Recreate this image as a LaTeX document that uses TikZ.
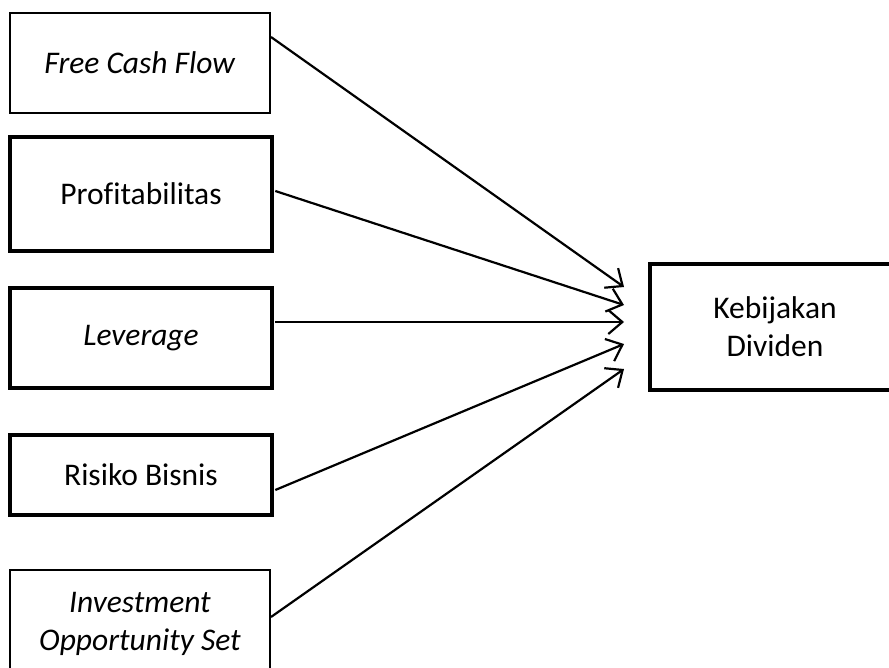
\documentclass[tikz,border=0pt]{standalone}
\usepackage{fontspec}
\setmainfont[Ligatures=NoCommon]{Carlito}
\usetikzlibrary{arrows.meta}
\begin{document}
\begin{tikzpicture}[x=1pt,y=-1pt,
  varbox/.style={draw, rectangle, align=center, inner sep=0pt,
    font=\fontsize{31.5}{38}\selectfont},
  thinbox/.style={varbox, line width=2pt},
  thickbox/.style={varbox, line width=4.6pt},
  conn/.style={line width=2.2pt, -{Straight Barb[length=14pt,width=24pt,line width=2.2pt]}}]
\useasboundingbox (0,0) rectangle (889,667);
\clip (0,0) rectangle (889,667);
\node[thinbox, minimum width=260pt, minimum height=100pt] (fcf) at (140,63) {\textit{Free Cash Flow}};
\node[thickbox, minimum width=262pt, minimum height=114pt] (prof) at (141,194) {Profitabilitas};
\node[thickbox, minimum width=262pt, minimum height=100pt] (lev) at (141,338) {\textit{Leverage}};
\node[thickbox, minimum width=262pt, minimum height=80pt] (ris) at (141,475) {Risiko Bisnis};
\node[thinbox, minimum width=260pt, minimum height=108pt] (ios) at (140,624) {\textit{Investment}\\\textit{Opportunity Set}};
\node[thickbox, minimum width=250pt, minimum height=126pt] (kd) at (775,327) {Kebijakan\\Dividen};
\coordinate (t1) at (624,287);
\coordinate (t2) at (624,305);
\coordinate (t3) at (624,322);
\coordinate (t4) at (624,344);
\coordinate (t5) at (624,369);
\draw[conn] ([yshift=26pt]fcf.east) -- (t1);
\draw[conn] ([yshift=3pt,xshift=1pt]prof.east) -- (t2);
\draw[conn] ([yshift=16pt,xshift=1pt]lev.east) -- (t3);
\draw[conn] ([yshift=-15pt,xshift=1pt]ris.east) -- (t4);
\draw[conn] ([yshift=7pt]ios.east) -- (t5);
\end{tikzpicture}
\end{document}
